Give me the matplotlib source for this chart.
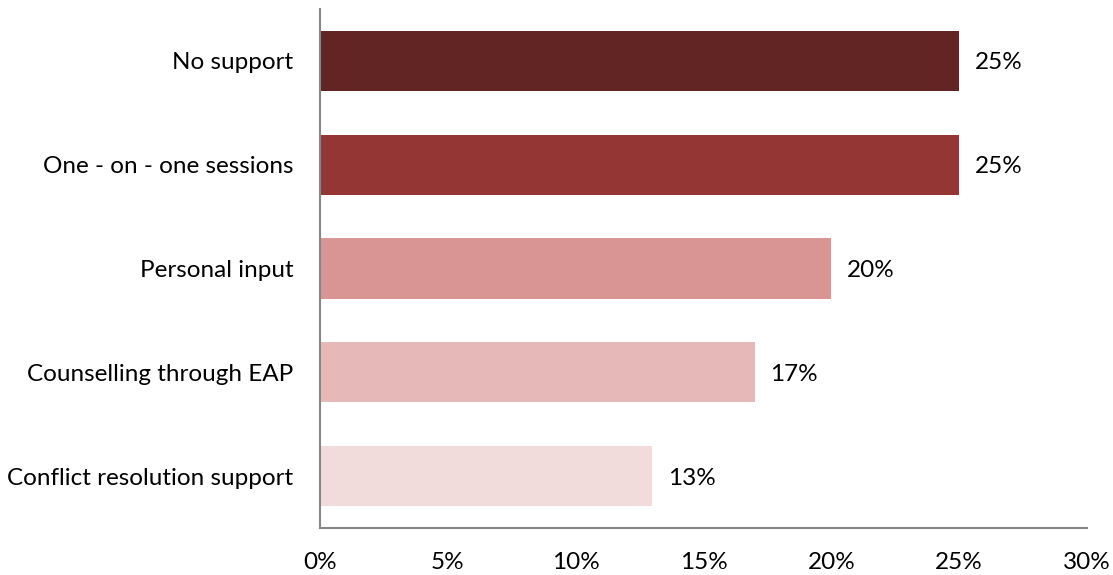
import numpy as np
import matplotlib.pyplot as plt

# support options and share of responses (%)
categories = ['No support', 'One - on - one sessions', 'Personal input',
              'Counselling through EAP', 'Conflict resolution support']
values = [25, 25, 20, 17, 13]
colors = ['#632523', '#943634', '#D99594', '#E6B9B8', '#F2DCDB']
xticks = [0, 5, 10, 15, 20, 25, 30]

fs = 17.5
plt.rcParams['font.family'] = ['Lato', 'DejaVu Sans']

fig = plt.figure(figsize=(11.13, 5.75), dpi=100)
ax = fig.add_axes([320 / 1113, 1 - 528 / 575, 767 / 1113, 519 / 575])

ypos = np.arange(len(categories))
ax.barh(ypos, values, height=0.58, color=colors)
for y, v in zip(ypos, values):
    ax.text(v + 0.6, y + 0.02, f'{v}%', va='center', ha='left', fontsize=fs)

ax.set_xlim(0, 30)
ax.set_ylim(len(categories) - 0.5, -0.5)
ax.set_yticks(ypos)
ax.set_yticklabels(categories, fontsize=fs)
ax.set_xticks(xticks)
ax.set_xticklabels([f'{t}%' for t in xticks], fontsize=fs)
ax.tick_params(axis='x', length=0, pad=17)
ax.tick_params(axis='y', length=0, pad=19)

for s in ['top', 'right']:
    ax.spines[s].set_visible(False)
for s in ['left', 'bottom']:
    ax.spines[s].set_color('#868686')
    ax.spines[s].set_linewidth(1.5)

fig.savefig('out.png', dpi=100)
